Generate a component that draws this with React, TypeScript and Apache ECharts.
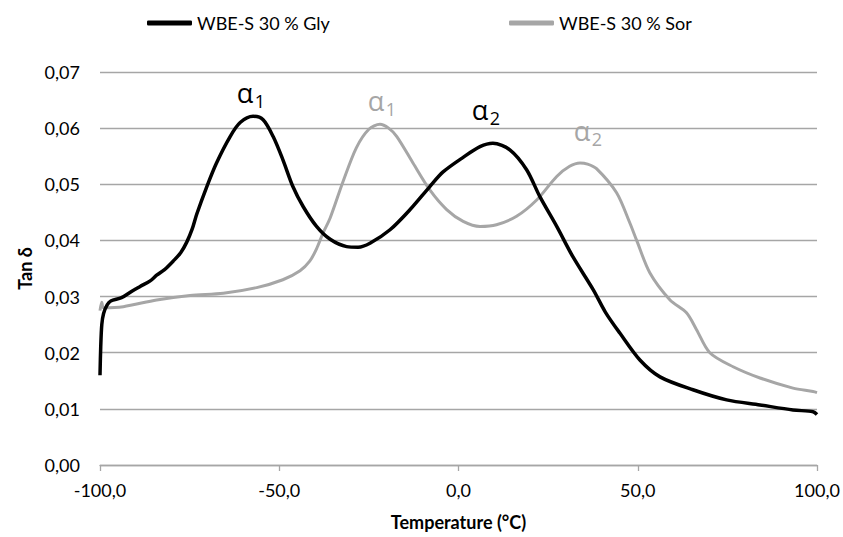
import React, { useEffect, useRef } from "react";
import * as echarts from "echarts";

const seriesNames = ["WBE-S 30 % Gly", "WBE-S 30 % Sor"];

const tempGly = [-100, -99.8, -99.5, -99, -98, -97, -94, -91, -88.8, -86, -84.2, -82, -79.6, -77.5, -75.8, -74.3, -73.0, -70.2, -67.5, -63.7, -60.9, -57.3, -54.5, -51.7, -49.0, -46.2, -43.3, -39.6, -35.8, -31.2, -28, -24.7, -19.1, -13.5, -8.0, -4.3, 1.3, 6.0, 9.6, 14.4, 19.0, 22.7, 27.4, 31.9, 37.6, 41, 45.0, 50.6, 56.2, 65.4, 74.8, 84.1, 93.3, 98.9, 100];
const tanGly = [0.016, 0.021, 0.025, 0.027, 0.0285, 0.0292, 0.0298, 0.031, 0.0318, 0.0328, 0.0338, 0.0348, 0.0363, 0.0378, 0.0397, 0.042, 0.0447, 0.0496, 0.0538, 0.0585, 0.061, 0.0621, 0.0615, 0.0585, 0.0544, 0.0496, 0.046, 0.0425, 0.0402, 0.0389, 0.0388, 0.0395, 0.0419, 0.0455, 0.0496, 0.0522, 0.0548, 0.0567, 0.0573, 0.0561, 0.0526, 0.0478, 0.0425, 0.0371, 0.0312, 0.0272, 0.0235, 0.0187, 0.0157, 0.0134, 0.0116, 0.0107, 0.0098, 0.0095, 0.009];

const tempSor = [-100, -99.5, -99, -93.5, -84.2, -74.9, -65.6, -56.3, -49.0, -44.2, -41.5, -39.6, -37.8, -35.8, -32.2, -28.5, -25, -21.9, -19.5, -17.2, -12.7, -8.0, -3.3, 1.3, 6.0, 10.6, 16.2, 21.8, 27.4, 31, 33.9, 36, 38.5, 44.1, 47.8, 49.7, 53.4, 59.0, 63.6, 66.4, 70.1, 76.6, 84.1, 93.3, 98.9, 100];
const tanSor = [0.0275, 0.029, 0.028, 0.0282, 0.0294, 0.0302, 0.0306, 0.0316, 0.033, 0.0346, 0.0363, 0.0385, 0.0413, 0.044, 0.0505, 0.0565, 0.0598, 0.0607, 0.06, 0.0585, 0.0538, 0.049, 0.0455, 0.0434, 0.0425, 0.0428, 0.0443, 0.0472, 0.0514, 0.0532, 0.0538, 0.0536, 0.0528, 0.0485, 0.0431, 0.04, 0.0342, 0.0294, 0.0271, 0.0241, 0.02, 0.0175, 0.0155, 0.0137, 0.0131, 0.0129];

const xTicks = { min: -100, max: 100, interval: 50 };
const yTicks = { min: 0, max: 0.07, interval: 0.01 };

const FONT = "Lato, 'Open Sans', sans-serif";
const BLACK = "#000000";
const GRAY = "#a6a6a6";

function alpha(x: number, y: number, sub: string, color: string) {
  return [
    {
      type: "text",
      x,
      y,
      style: { text: "α", fill: color, font: "27px 'Open Sans', sans-serif", align: "center", verticalAlign: "middle" },
    },
    {
      type: "text",
      x: x + 15,
      y: y + 9,
      style: { text: sub, fill: color, font: "18px 'Open Sans', sans-serif", align: "center", verticalAlign: "middle" },
    },
  ];
}

export default function App() {
  const ref = useRef<HTMLDivElement>(null);
  useEffect(() => {
    if (!ref.current) return;
    const chart = echarts.init(ref.current, null, { renderer: "svg" });
    const gly = tempGly.map((t, i) => [t, tanGly[i]]);
    const sor = tempSor.map((t, i) => [t, tanSor[i]]);
    chart.setOption({
      animation: false,
      backgroundColor: "#ffffff",
      grid: { left: 100, right: 26, top: 72, bottom: 72 },
      legend: [
        {
          data: [seriesNames[0]],
          left: 142,
          top: 9,
          icon: "roundRect",
          itemWidth: 45,
          itemHeight: 5,
          textStyle: { fontFamily: FONT, fontSize: 18, color: "#000" },
        },
        {
          data: [seriesNames[1]],
          left: 504,
          top: 9,
          icon: "roundRect",
          itemWidth: 45,
          itemHeight: 5,
          textStyle: { fontFamily: FONT, fontSize: 18, color: "#000" },
        },
      ],
      xAxis: {
        type: "value",
        min: xTicks.min,
        max: xTicks.max,
        interval: xTicks.interval,
        name: "Temperature (°C)",
        nameLocation: "middle",
        nameGap: 48,
        nameTextStyle: { fontFamily: FONT, fontSize: 18, fontWeight: "bold", color: "#000" },
        axisLine: { show: true, onZero: false, lineStyle: { color: "#a6a6a6", width: 1.3 } },
        axisTick: { show: true, length: 6, lineStyle: { color: "#a6a6a6", width: 1.3 } },
        axisLabel: {
          margin: 16,
          fontFamily: FONT,
          fontSize: 18,
          color: "#000",
          formatter: (v: number) => v.toFixed(1).replace(".", ","),
        },
        splitLine: { show: false },
      },
      yAxis: {
        type: "value",
        min: yTicks.min,
        max: yTicks.max,
        interval: yTicks.interval,
        name: "Tan δ",
        nameLocation: "middle",
        nameGap: 66,
        nameTextStyle: { fontFamily: FONT, fontSize: 18, fontWeight: "bold", color: "#000" },
        axisLine: { show: false },
        axisTick: { show: false },
        axisLabel: {
          margin: 20,
          fontFamily: FONT,
          fontSize: 18,
          color: "#000",
          formatter: (v: number) => v.toFixed(2).replace(".", ","),
        },
        splitLine: { show: true, lineStyle: { color: "#a6a6a6", width: 1.3 } },
      },
      series: [
        {
          name: seriesNames[0],
          type: "line",
          data: gly,
          showSymbol: false,
          symbol: "none",
          smooth: 0.3,
          lineStyle: { color: BLACK, width: 3.5 },
          itemStyle: { color: BLACK },
          z: 3,
        },
        {
          name: seriesNames[1],
          type: "line",
          data: sor,
          showSymbol: false,
          symbol: "none",
          smooth: 0.3,
          lineStyle: { color: GRAY, width: 3 },
          itemStyle: { color: GRAY },
          z: 2,
        },
      ],
      graphic: [
        ...alpha(245, 92, "1", BLACK),
        ...alpha(376, 100, "1", GRAY),
        ...alpha(480, 109, "2", BLACK),
        ...alpha(582, 130, "2", GRAY),
      ],
    });
    return () => chart.dispose();
  }, []);
  return <div ref={ref} style={{ position: "absolute", left: 0, top: 0, width: 843, height: 537 }} />;
}
